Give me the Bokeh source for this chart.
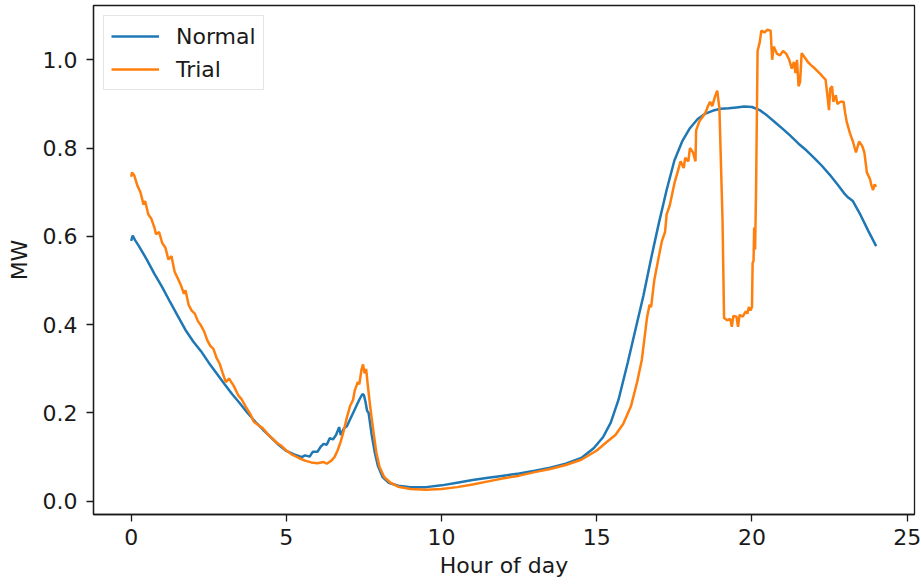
from bokeh.plotting import figure
from bokeh.models import Range1d, FixedTicker, PrintfTickFormatter, Legend, LegendItem
from bokeh.embed import file_html
from bokeh.resources import INLINE

normal_hours = [0.0, 0.05, 0.12, 0.25, 0.5, 0.75, 1.0, 1.25, 1.5, 1.75, 2.0, 2.25, 2.5, 2.75, 3.0, 3.25, 3.5, 3.75,
                4.0, 4.25, 4.5, 4.75, 5.0, 5.25, 5.5, 5.6, 5.75, 5.85, 6.0, 6.1, 6.2, 6.3, 6.4, 6.5, 6.6, 6.7, 6.75,
                6.85, 6.95, 7.05, 7.15, 7.25, 7.35, 7.45, 7.5, 7.55, 7.6, 7.65, 7.75, 7.85, 7.95, 8.1, 8.3, 8.6, 9.0,
                9.5, 10.0, 10.5, 11.0, 11.5, 12.0, 12.5, 13.0, 13.5, 14.0, 14.5, 14.9, 15.2, 15.45, 15.7, 16.0, 16.25,
                16.5, 16.75, 17.0, 17.25, 17.5, 17.75, 18.0, 18.25, 18.5, 18.75, 19.0, 19.25, 19.5, 19.75, 20.0, 20.25,
                20.5, 20.75, 21.0, 21.25, 21.5, 21.75, 22.0, 22.25, 22.5, 22.75, 23.0, 23.1, 23.25, 23.5, 23.75, 24.0]
normal_mw = [0.590, 0.602, 0.592, 0.578, 0.548, 0.515, 0.485, 0.452, 0.420, 0.388, 0.362, 0.340, 0.314, 0.290, 0.266,
             0.243, 0.222, 0.200, 0.180, 0.162, 0.145, 0.128, 0.114, 0.106, 0.100, 0.104, 0.101, 0.112, 0.112, 0.123,
             0.130, 0.128, 0.143, 0.140, 0.150, 0.168, 0.150, 0.165, 0.170, 0.185, 0.200, 0.215, 0.230, 0.243, 0.240,
             0.225, 0.205, 0.200, 0.150, 0.110, 0.080, 0.055, 0.042, 0.035, 0.032, 0.032, 0.036, 0.042, 0.048, 0.053,
             0.058, 0.063, 0.069, 0.076, 0.085, 0.098, 0.120, 0.145, 0.178, 0.230, 0.315, 0.390, 0.465, 0.550, 0.630,
             0.705, 0.772, 0.815, 0.845, 0.866, 0.878, 0.885, 0.889, 0.890, 0.892, 0.894, 0.893, 0.886, 0.873, 0.858,
             0.843, 0.827, 0.810, 0.795, 0.778, 0.760, 0.740, 0.718, 0.695, 0.688, 0.680, 0.648, 0.612, 0.578]

trial_hours = [0.0, 0.03, 0.1, 0.2, 0.3, 0.4, 0.45, 0.55, 0.65, 0.75, 0.8, 0.9, 1.0, 1.1, 1.2, 1.3, 1.4, 1.5, 1.6, 1.7,
               1.75, 1.85, 1.95, 2.05, 2.15, 2.25, 2.35, 2.45, 2.55, 2.65, 2.75, 2.85, 2.95, 3.05, 3.15, 3.3, 3.45,
               3.55, 3.7, 3.85, 3.95, 4.1, 4.25, 4.4, 4.55, 4.7, 4.85, 5.0, 5.2, 5.4, 5.6, 5.8, 6.0, 6.2, 6.3, 6.45,
               6.55, 6.65, 6.75, 6.85, 6.95, 7.05, 7.15, 7.2, 7.3, 7.35, 7.42, 7.47, 7.52, 7.57, 7.62, 7.7, 7.8, 7.9,
               8.0, 8.15, 8.35, 8.6, 9.0, 9.5, 10.0, 10.5, 11.0, 11.5, 12.0, 12.5, 13.0, 13.5, 14.0, 14.5, 15.0, 15.3,
               15.6, 15.85, 16.1, 16.3, 16.45, 16.62, 16.7, 16.75, 16.85, 17.0, 17.1, 17.2, 17.25, 17.35, 17.5, 17.6,
               17.7, 17.8, 17.85, 17.95, 18.0, 18.1, 18.18, 18.2, 18.3, 18.4, 18.5, 18.6, 18.65, 18.72, 18.8, 18.88,
               18.95, 19.05, 19.1, 19.2, 19.3, 19.35, 19.4, 19.5, 19.55, 19.6, 19.7, 19.8, 19.85, 19.9, 19.95, 20.0,
               20.02, 20.05, 20.07, 20.1, 20.13, 20.18, 20.25, 20.3, 20.4, 20.5, 20.6, 20.65, 20.7, 20.8, 20.9, 21.0,
               21.1, 21.2, 21.28, 21.35, 21.4, 21.45, 21.5, 21.55, 21.6, 21.7, 21.8, 21.9, 22.0, 22.1, 22.2, 22.3,
               22.37, 22.42, 22.48, 22.52, 22.58, 22.62, 22.7, 22.75, 22.85, 22.95, 23.0, 23.05, 23.15, 23.25, 23.35,
               23.45, 23.55, 23.62, 23.7, 23.8, 23.85, 23.9, 23.95, 24.0]
trial_mw = [0.735, 0.745, 0.738, 0.715, 0.700, 0.672, 0.680, 0.650, 0.640, 0.620, 0.605, 0.610, 0.585, 0.575, 0.548,
            0.555, 0.520, 0.505, 0.490, 0.470, 0.478, 0.445, 0.432, 0.425, 0.408, 0.398, 0.385, 0.365, 0.352, 0.345,
            0.325, 0.312, 0.290, 0.270, 0.278, 0.262, 0.240, 0.232, 0.213, 0.196, 0.180, 0.172, 0.165, 0.152, 0.142,
            0.132, 0.125, 0.115, 0.105, 0.098, 0.092, 0.088, 0.086, 0.089, 0.085, 0.092, 0.100, 0.115, 0.135, 0.160,
            0.190, 0.215, 0.230, 0.250, 0.270, 0.265, 0.298, 0.310, 0.290, 0.300, 0.265, 0.215, 0.160, 0.110, 0.078,
            0.055, 0.042, 0.033, 0.028, 0.026, 0.028, 0.032, 0.038, 0.045, 0.052, 0.058, 0.066, 0.073, 0.082, 0.094,
            0.115, 0.133, 0.150, 0.175, 0.215, 0.270, 0.320, 0.417, 0.445, 0.440, 0.500, 0.555, 0.590, 0.610, 0.650,
            0.670, 0.720, 0.745, 0.770, 0.755, 0.778, 0.770, 0.800, 0.790, 0.770, 0.840, 0.860, 0.870, 0.880, 0.898,
            0.905, 0.895, 0.915, 0.930, 0.890, 0.640, 0.415, 0.410, 0.413, 0.395, 0.420, 0.418, 0.395, 0.422, 0.418,
            0.430, 0.425, 0.440, 0.432, 0.440, 0.540, 0.545, 0.620, 0.570, 0.700, 1.020, 1.040, 1.066, 1.062, 1.068,
            1.066, 1.000, 1.030, 1.014, 1.010, 1.020, 1.014, 1.000, 0.980, 0.995, 0.970, 1.000, 0.940, 0.950, 1.015,
            1.005, 0.995, 0.988, 0.982, 0.975, 0.968, 0.960, 0.955, 0.925, 0.886, 0.935, 0.940, 0.905, 0.920, 0.900,
            0.905, 0.905, 0.880, 0.860, 0.835, 0.815, 0.790, 0.815, 0.805, 0.790, 0.745, 0.730, 0.715, 0.705, 0.718,
            0.712]

series_names = ["Normal", "Trial"]
series_colors = ["#1f77b4", "#ff7f0e"]
x_ticks = [0, 5, 10, 15, 20, 25]
y_ticks = [0.0, 0.2, 0.4, 0.6, 0.8, 1.0]

FONT = "DejaVu Sans"
FS = "22px"

p = figure(width=921, height=585, output_backend="svg", toolbar_location=None,
           x_range=Range1d(-1.213, 25.235), y_range=Range1d(-0.030, 1.123),
           min_border_left=93, min_border_right=7, min_border_top=5, min_border_bottom=71,
           x_axis_label="Hour of day", y_axis_label="MW")
p.background_fill_color = "white"
p.border_fill_color = "white"
p.grid.visible = False
p.outline_line_color = "#1a1a1a"
p.outline_line_width = 1.3

r1 = p.line(normal_hours, normal_mw, line_color=series_colors[0], line_width=2.5)
r2 = p.line(trial_hours, trial_mw, line_color=series_colors[1], line_width=2.5)

p.xaxis.ticker = FixedTicker(ticks=x_ticks)
p.yaxis.ticker = FixedTicker(ticks=y_ticks)
p.yaxis.formatter = PrintfTickFormatter(format="%.1f")
for ax in (p.xaxis[0], p.yaxis[0]):
    ax.axis_line_color = "#1a1a1a"
    ax.axis_line_width = 1.3
    ax.major_tick_in = 0
    ax.major_tick_out = 7
    ax.major_tick_line_color = "#1a1a1a"
    ax.major_tick_line_width = 1.3
    ax.minor_tick_line_color = None
    ax.major_label_text_font = FONT
    ax.major_label_text_font_size = FS
    ax.major_label_text_color = "#1a1a1a"
    ax.axis_label_text_font = FONT
    ax.axis_label_text_font_size = FS
    ax.axis_label_text_font_style = "normal"
    ax.axis_label_text_color = "#1a1a1a"
p.xaxis.major_label_standoff = 7
p.xaxis.axis_label_standoff = 5
p.yaxis.major_label_standoff = 9
p.yaxis.axis_label_standoff = 8

legend = Legend(items=[LegendItem(label=series_names[0], renderers=[r1]),
                       LegendItem(label=series_names[1], renderers=[r2])],
                location="top_left", margin=10, padding=7, spacing=7,
                glyph_width=48, glyph_height=26, label_height=26, label_standoff=17,
                label_text_font=FONT, label_text_font_size=FS, label_text_color="#1a1a1a",
                border_line_color="#cccccc", border_line_width=1.3,
                background_fill_color="white", background_fill_alpha=0.8)
p.add_layout(legend)

open("out.html", "w").write(file_html(p, INLINE))
